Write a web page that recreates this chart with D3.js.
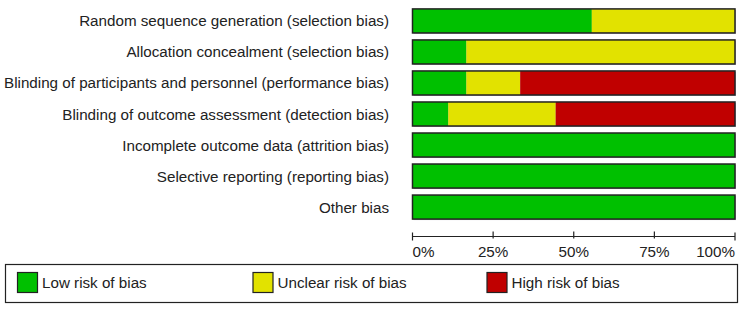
<!DOCTYPE html>
<html><head><meta charset="utf-8">
<script src="https://cdn.jsdelivr.net/npm/d3@7"></script>
<style>body{margin:0;background:#fff}svg{display:block}text{font-family:"Liberation Sans",Arial,sans-serif;fill:#222}</style>
</head><body>
<script>
const domains = [
  "Random sequence generation (selection bias)",
  "Allocation concealment (selection bias)",
  "Blinding of participants and personnel (performance bias)",
  "Blinding of outcome assessment (detection bias)",
  "Incomplete outcome data (attrition bias)",
  "Selective reporting (reporting bias)",
  "Other bias"
];
const lowRisk     = [55.6, 16.7, 16.7, 11.1, 100, 100, 100];
const unclearRisk = [44.4, 83.3, 16.7, 33.3, 0, 0, 0];
const highRisk    = [0, 0, 66.6, 55.6, 0, 0, 0];
const tickValues = [0, 25, 50, 75, 100];
const tickLabels = ["0%", "25%", "50%", "75%", "100%"];
const legendLabels = ["Low risk of bias", "Unclear risk of bias", "High risk of bias"];
const colors = ["#00c000", "#e2e200", "#c00000"];

const W = 744, H = 310, FS = "15.2px";
const svg = d3.select("body").append("svg").attr("width", W).attr("height", H);
const x = d3.scaleLinear().domain([0, 100]).range([412.5, 735]);
const y = d3.scaleBand().domain(domains).range([5.5, 222.5]).paddingInner(0.225).paddingOuter(0.11);

const rows = domains.map((d, i) => ({name: d, vals: [lowRisk[i], unclearRisk[i], highRisk[i]]}));

// labels
svg.selectAll("text.lab").data(domains).enter().append("text")
  .attr("class", "lab").attr("x", 389).attr("y", d => y(d) + y.bandwidth() / 2 + 5.5)
  .attr("text-anchor", "end").style("font-size", FS).text(d => d);

rows.forEach(r => {
  const g = svg.append("g");
  let acc = 0;
  const segs = r.vals.map((v, k) => { const s = {x0: acc, x1: acc + v, k}; acc += v; return s; }).filter(s => s.x1 > s.x0);
  g.append("rect").attr("x", x(0) + 1).attr("y", y(r.name) + 1)
    .attr("width", x(100) - x(0)).attr("height", y.bandwidth()).attr("fill", "#c8c0d0");
  g.selectAll("rect.seg").data(segs).enter().append("rect").attr("class", "seg")
    .attr("x", s => x(s.x0)).attr("y", y(r.name))
    .attr("width", s => x(s.x1) - x(s.x0)).attr("height", y.bandwidth())
    .attr("fill", s => colors[s.k]);
  g.append("rect").attr("x", x(0)).attr("y", y(r.name))
    .attr("width", x(100) - x(0)).attr("height", y.bandwidth())
    .attr("fill", "none").attr("stroke", "#222").attr("stroke-width", 1.5);
});

// axis
const axY = 236.5;
const ax = svg.append("g");
ax.append("line").attr("x1", x(0)).attr("x2", x(100)).attr("y1", axY).attr("y2", axY).attr("stroke", "#222").attr("stroke-width", 1.2);
ax.selectAll("line.t").data(tickValues).enter().append("line").attr("class", "t")
  .attr("x1", d => x(d)).attr("x2", d => x(d))
  .attr("y1", d => (d === 0 || d === 100) ? axY - 4 : axY - 5)
  .attr("y2", d => (d === 0 || d === 100) ? axY + 4 : axY + 2)
  .attr("stroke", "#222").attr("stroke-width", 1.2);
ax.selectAll("text.tl").data(tickValues).enter().append("text").attr("class", "tl")
  .attr("x", d => x(d))
  .attr("y", 257)
  .attr("text-anchor", d => d === 0 ? "start" : d === 100 ? "end" : "middle")
  .style("font-size", FS)
  .text((d, i) => tickLabels[i]);

// legend
svg.append("rect").attr("x", 5.5).attr("y", 264.5).attr("width", 732).attr("height", 38)
  .attr("fill", "#fff").attr("stroke", "#222").attr("stroke-width", 1.2);
const legX = [17.5, 253, 487];
const lg = svg.selectAll("g.leg").data(legendLabels).enter().append("g").attr("class", "leg")
  .attr("transform", (d, i) => `translate(${legX[i]},272.5)`);
lg.append("rect").attr("width", 20).attr("height", 20).attr("fill", (d, i) => colors[i]).attr("stroke", "#222").attr("stroke-width", 1.2);
lg.append("text").attr("x", 24.5).attr("y", 15.5).style("font-size", FS).text(d => d);
</script>
</body></html>
